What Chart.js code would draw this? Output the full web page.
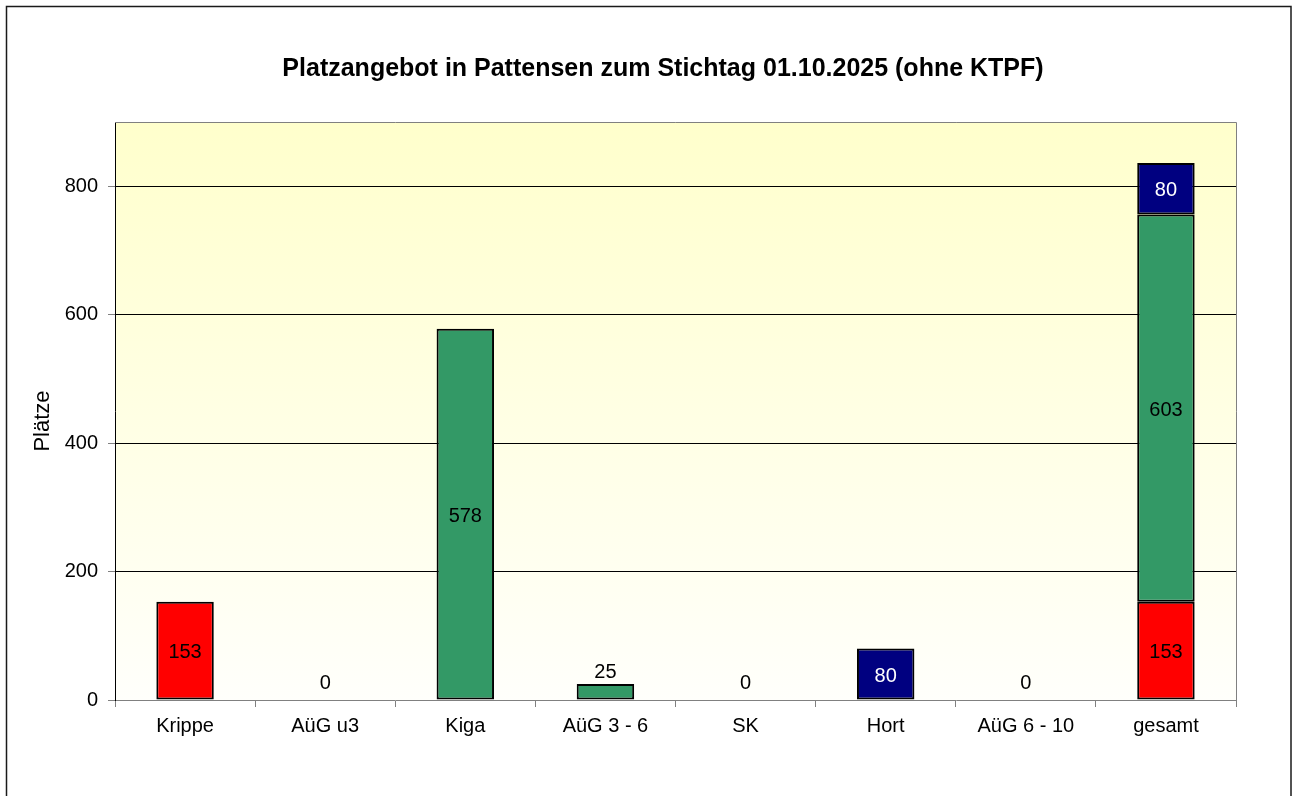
<!DOCTYPE html>
<html>
<head>
<meta charset="utf-8">
<title>Platzangebot Pattensen</title>
<script src="https://cdn.jsdelivr.net/npm/chart.js"></script>
<style>
  html, body { margin: 0; padding: 0; background: #fff; }
  canvas { display: block; }
</style>
</head>
<body>
<canvas id="myChart" width="1292" height="796" style="width:1292px;height:796px"></canvas>
<script>
// Daten
const kategorien = ['Krippe', 'AüG u3', 'Kiga', 'AüG 3 - 6', 'SK', 'Hort', 'AüG 6 - 10', 'gesamt'];
const plaetzeU3 = [153, 0, null, null, null, null, null, 153];
const plaetzeUe3 = [null, null, 578, 25, null, null, null, 603];
const plaetzeSchule = [null, null, null, null, 0, 80, 0, 80];
const yTicks = [0, 200, 400, 600, 800];

const titel = 'Platzangebot in Pattensen zum Stichtag 01.10.2025 (ohne KTPF)';
const yTitel = 'Plätze';

const FONT = 'Liberation Sans, Arial, sans-serif';

// Hintergrund + Rahmen
const hintergrund = {
    id: 'hintergrund',
    beforeDraw(chart) {
        const ctx = chart.ctx;
        const a = chart.chartArea;
        ctx.save();
        ctx.fillStyle = '#fff';
        ctx.fillRect(0, 0, chart.width, chart.height);
        let grad = ctx.createLinearGradient(0, a.top, 0, a.bottom);
        grad.addColorStop(0, '#ffffcc');
        grad.addColorStop(1, '#fffffb');
        ctx.fillStyle = grad;
        ctx.fillRect(a.left, a.top, a.right - a.left, a.bottom - a.top);
        ctx.restore();
    },
    afterDraw(chart) {
        const ctx = chart.ctx;
        const a = chart.chartArea;
        ctx.save();
        // Plotrahmen oben/rechts
        ctx.strokeStyle = '#808080';
        ctx.lineWidth = 1;
        ctx.beginPath();
        ctx.moveTo(a.left, a.top + 0.5);
        ctx.lineTo(a.right + 0.5, a.top + 0.5);
        ctx.lineTo(a.right + 0.5, a.bottom);
        ctx.stroke();
        // äußerer Rahmen
        ctx.strokeStyle = '#1a1a1a';
        ctx.lineWidth = 1.5;
        ctx.strokeRect(6.5, 6.5, 1284.5, 820);
        // Titel
        ctx.fillStyle = '#000';
        ctx.textAlign = 'center';
        ctx.textBaseline = 'alphabetic';
        ctx.font = 'bold 25px ' + FONT;
        ctx.fillText(titel, 663, 76);
        // Achsentitel
        ctx.translate(43, 421);
        ctx.rotate(-Math.PI / 2);
        ctx.font = '22px ' + FONT;
        ctx.textBaseline = 'middle';
        ctx.fillText(yTitel, 0, 0);
        ctx.restore();
    }
};

// Werte an den Balken
const werteLabels = {
    id: 'werteLabels',
    afterDatasetsDraw(chart) {
        const ctx = chart.ctx;
        ctx.save();
        ctx.font = '20px ' + FONT;
        ctx.textAlign = 'center';
        ctx.textBaseline = 'middle';
        chart.data.datasets.forEach((ds, i) => {
            const meta = chart.getDatasetMeta(i);
            meta.data.forEach((bar, j) => {
                const v = ds.data[j];
                if (v === null || v === undefined) return;
                const h = bar.base - bar.y;
                let y;
                if (h >= 26) {
                    ctx.fillStyle = ds.labelColor;
                    y = (bar.y + bar.base) / 2 + 2;
                } else {
                    ctx.fillStyle = '#000';
                    y = bar.y - (v === 0 ? 17 : 11);
                }
                ctx.fillText(String(v), bar.x, y);
            });
        });
        ctx.restore();
    }
};

new Chart('myChart', {
    type: 'bar',
    data: {
        labels: kategorien,
        datasets: [
            { label: 'u3', data: plaetzeU3, backgroundColor: '#ff0000', labelColor: '#000' },
            { label: 'ü3', data: plaetzeUe3, backgroundColor: '#339966', labelColor: '#000' },
            { label: 'Schule', data: plaetzeSchule, backgroundColor: '#000080', labelColor: '#fff' }
        ]
    },
    options: {
        responsive: false,
        animation: false,
        devicePixelRatio: 1,
        layout: { padding: { top: 122, left: 0, right: 56, bottom: 56 } },
        datasets: {
            bar: {
                borderColor: '#000',
                borderWidth: 2,
                borderSkipped: false,
                categoryPercentage: 1,
                barPercentage: 0.41
            }
        },
        plugins: {
            legend: { display: false },
            title: { display: false },
            tooltip: { enabled: false }
        },
        scales: {
            x: {
                stacked: true,
                afterFit: s => { s.height = 40; },
                grid: { offset: true, drawOnChartArea: false, drawTicks: true, tickLength: 7, tickColor: '#808080' },
                border: { color: '#808080', width: 1 },
                ticks: { color: '#000', padding: 7, font: { size: 20, family: FONT } }
            },
            y: {
                stacked: true,
                min: 0,
                max: 900,
                afterBuildTicks: s => { s.ticks = yTicks.map(v => ({ value: v })); },
                afterFit: s => { s.width = 115; },
                grid: {
                    color: c => (c.tick && c.tick.value === 0 ? 'rgba(0,0,0,0)' : '#000'),
                    tickLength: 7,
                    tickColor: '#808080'
                },
                border: { color: '#000', width: 1 },
                ticks: { color: '#000', padding: 10, font: { size: 20, family: FONT } }
            }
        }
    },
    plugins: [hintergrund, werteLabels]
});
</script>
</body>
</html>
